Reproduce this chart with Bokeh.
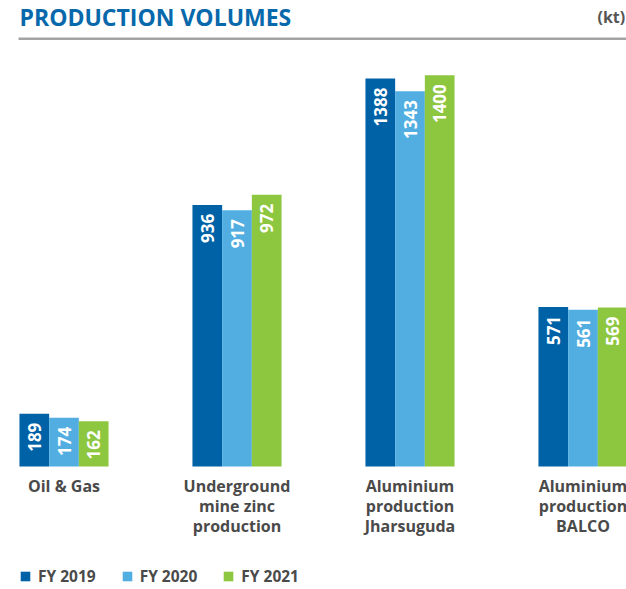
import math
from bokeh.plotting import figure
from bokeh.models import (ColumnDataSource, Label, BoxAnnotation, Legend, LegendItem, Range1d)
from bokeh.core.properties import value
from bokeh.embed import file_html
from bokeh.resources import INLINE

# ---- data ----
categories = ["Oil & Gas", "Underground\nmine zinc\nproduction",
              "Aluminium\nproduction\nJharsuguda", "Aluminium\nproduction\nBALCO"]
fy2019 = [189, 936, 1388, 571]
fy2020 = [174, 917, 1343, 561]
fy2021 = [162, 972, 1400, 569]
series_names = ["FY 2019", "FY 2020", "FY 2021"]
colors = ["#0062A6", "#52AEE1", "#8DC63F"]

FONT = "Open Sans"
W, H = 626, 589
PXX = 173.0            # px per category step
X0 = -63.5 / PXX
UPP = 1 / 0.2795       # data units per px
Y_END = 466 * UPP
Y_START = Y_END - H * UPP

def fx(px):
    return X0 + px / PXX

def fy(py):
    return Y_END - py * UPP

p = figure(width=W, height=H, output_backend="svg", toolbar_location=None,
           x_range=Range1d(X0, X0 + W / PXX), y_range=Range1d(Y_START, Y_END),
           min_border=0, x_axis_location=None, y_axis_location=None)
p.grid.visible = False
p.outline_line_color = None
p.background_fill_color = "white"

idx = list(range(len(categories)))
bw = 29.7 / PXX
offsets = [-bw, 0.0, bw]
renderers = []
for vals, off, col in zip([fy2019, fy2020, fy2021], offsets, colors):
    src = ColumnDataSource(dict(x=[i + off for i in idx], top=vals,
                                lab=[str(v) for v in vals],
                                ly=[v - 9 * UPP for v in vals]))
    r = p.vbar(x="x", top="top", bottom=0, width=bw, source=src,
               fill_color=col, line_color=None)
    renderers.append(r)
    p.text(x="x", y="ly", text="lab", source=src, angle=math.pi / 2,
           text_align="right", text_baseline="middle", text_color="white",
           text_font=value(FONT), text_font_style="bold", text_font_size="17px")

# category labels
csrc = ColumnDataSource(dict(x=idx, y=[fy(474.5)] * len(idx), t=categories))
p.text(x="x", y="y", text="t", source=csrc, text_align="center",
       text_baseline="top", text_color="#4a4a4a", text_font=value(FONT),
       text_font_style="bold", text_font_size="16px", text_line_height=0.92)

# title
p.add_layout(Label(x=fx(19), y=fy(16), text="PRODUCTION VOLUMES",
                   text_baseline="middle", text_color="#0868AC",
                   text_font=FONT, text_font_style="bold", text_font_size="23px"))
p.add_layout(Label(x=fx(597), y=fy(16), text="(kt)",
                   text_baseline="middle", text_color="#555555",
                   text_font=FONT, text_font_style="bold", text_font_size="16px"))
p.add_layout(BoxAnnotation(left=fx(18), right=fx(640), top=fy(37), bottom=fy(39.5),
                           fill_color="#a3a3a3", fill_alpha=1, line_color=None))

legend = Legend(items=[LegendItem(label=n, renderers=[r]) for n, r in zip(series_names, renderers)],
                location=(19, 2), orientation="horizontal", glyph_width=12, glyph_height=12,
                label_standoff=7, spacing=25, padding=0, margin=0,
                border_line_color=None, background_fill_alpha=0,
                label_text_font=FONT, label_text_font_style="bold",
                label_text_font_size="15.5px", label_text_color="#4a4a4a")
p.add_layout(legend, "center")

open("out.html", "w").write(file_html(p, INLINE))
